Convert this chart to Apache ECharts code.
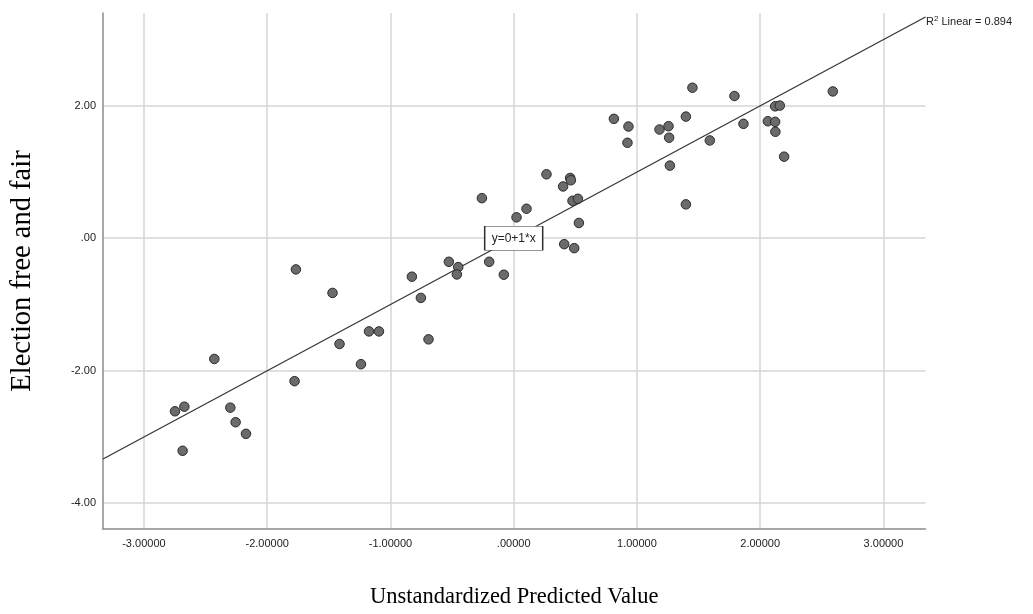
<!DOCTYPE html>
<html>
<head>
<meta charset="utf-8">
<script src="https://cdn.jsdelivr.net/npm/echarts@6/dist/echarts.min.js"></script>
<style>
  html, body { margin: 0; padding: 0; background: #fff; }
  #chart { width: 1033px; height: 614px; }
</style>
</head>
<body>
<div id="chart"></div>
<script>
// Unstandardized predicted values (x) and observed "Election free and fair" scores (y)
const predicted = [
  -2.429, -1.778, -2.748, -2.672, -2.299, -2.256, -2.172, -2.686,
  -1.470, -1.413, -1.174, -1.093, -1.239, -0.826, -0.753, -0.691,
  -0.526, -0.450, -0.461, -0.199, -1.767, -0.080,
  -0.258, 0.023, 0.104, 0.266, 0.401, 0.458, 0.464, 0.477, 0.521, 0.529, 0.410, 0.491,
  1.450, 1.791, 0.813, 0.931, 0.923, 1.183, 1.256, 1.261, 1.397, 1.591, 1.267, 1.397,
  1.864, 2.062, 2.121, 2.123, 2.121, 2.159, 2.194, 2.589
];
const observed = [
  -1.823, -2.158, -2.613, -2.543, -2.558, -2.778, -2.953, -3.209,
  -0.826, -1.597, -1.407, -1.407, -1.902, -0.581, -0.901, -1.527,
  -0.356, -0.436, -0.547, -0.356, -0.471, -0.551,
  0.605, 0.315, 0.445, 0.965, 0.781, 0.910, 0.875, 0.565, 0.595, 0.230, -0.090, -0.150,
  2.272, 2.147, 1.802, 1.686, 1.441, 1.641, 1.691, 1.517, 1.836, 1.476, 1.096, 0.511,
  1.727, 1.766, 1.757, 1.607, 1.991, 2.002, 1.231, 2.216
];

// Fit line y = intercept + slope * x, and its R squared
const intercept = 0;
const slope = 1;
const rSquared = 0.894;

// Axis ranges and tick labels
const xRange = [-3.332, 3.341];
const yRange = [-4.39, 3.40];
const xTicks = [-3, -2, -1, 0, 1, 2, 3];
const xTickLabels = ['-3.00000', '-2.00000', '-1.00000', '.00000', '1.00000', '2.00000', '3.00000'];
const yTicks = [-4, -2, 0, 2];
const yTickLabels = ['-4.00', '-2.00', '.00', '2.00'];

const points = predicted.map((x, i) => [x, observed[i]]);
const fitLine = [xRange[0], xRange[1]].map(x => [x, intercept + slope * x]);

const chart = echarts.init(document.getElementById('chart'), null, { renderer: 'canvas' });

const tickFont = { color: '#222', fontSize: 11, fontFamily: 'Liberation Sans, Arial, sans-serif' };
const serif = 'Liberation Serif, Times New Roman, serif';

chart.setOption({
  backgroundColor: '#ffffff',
  animation: false,
  grid: { left: 102.5, right: 107.5, top: 13, bottom: 83 },
  xAxis: {
    type: 'value',
    min: xRange[0],
    max: xRange[1],
    name: 'Unstandardized Predicted Value',
    nameLocation: 'middle',
    nameGap: 57,
    nameTextStyle: { color: '#000', fontSize: 22.5, fontFamily: serif },
    axisLine: { show: true, onZero: false, lineStyle: { color: '#8c8c8c', width: 1.5 } },
    axisTick: { show: false, customValues: xTicks },
    axisLabel: {
      customValues: xTicks,
      margin: 9,
      ...tickFont,
      formatter: v => xTickLabels[xTicks.indexOf(Math.round(v))] ?? ''
    },
    splitLine: { show: true, lineStyle: { color: '#d6d6d6', width: 1.5 } }
  },
  yAxis: {
    type: 'value',
    min: yRange[0],
    max: yRange[1],
    name: 'Election free and fair',
    nameLocation: 'middle',
    nameGap: 66,
    nameTextStyle: { color: '#000', fontSize: 28.5, fontFamily: serif },
    axisLine: { show: true, onZero: false, lineStyle: { color: '#8c8c8c', width: 1.5 } },
    axisTick: { show: false, customValues: yTicks },
    axisLabel: {
      customValues: yTicks,
      margin: 7,
      ...tickFont,
      formatter: v => yTickLabels[yTicks.indexOf(Math.round(v))] ?? ''
    },
    splitLine: { show: true, lineStyle: { color: '#d6d6d6', width: 1.5 } }
  },
  graphic: [{
    type: 'text',
    left: 926,
    top: 15,
    style: {
      text: 'R{sup|2} Linear = ' + rSquared.toFixed(3),
      fill: '#222',
      fontSize: 11,
      fontFamily: 'Liberation Sans, Arial, sans-serif',
      rich: {
        sup: { fontSize: 8, verticalAlign: 'top', padding: [0, 0, 6, 0], fill: '#222' }
      }
    }
  }],
  series: [
    {
      type: 'line',
      data: fitLine,
      symbol: 'none',
      silent: true,
      clip: false,
      lineStyle: { color: '#333', width: 1.2 },
      z: 3,
      markPoint: {
        symbol: 'rect',
        symbolSize: [58, 24],
        silent: true,
        itemStyle: { color: '#fff', borderColor: '#333', borderWidth: 1 },
        label: {
          show: true,
          position: 'inside',
          formatter: 'y=' + intercept + '+' + slope + '*x',
          color: '#222',
          fontSize: 12,
          fontFamily: 'Liberation Sans, Arial, sans-serif'
        },
        data: [{ coord: [0, intercept] }]
      }
    },
    {
      type: 'scatter',
      data: points,
      symbolSize: 9.5,
      itemStyle: { color: '#6b6b6b', borderColor: '#2a2a2a', borderWidth: 1, opacity: 1 },
      z: 4
    }
  ]
});
</script>
</body>
</html>
